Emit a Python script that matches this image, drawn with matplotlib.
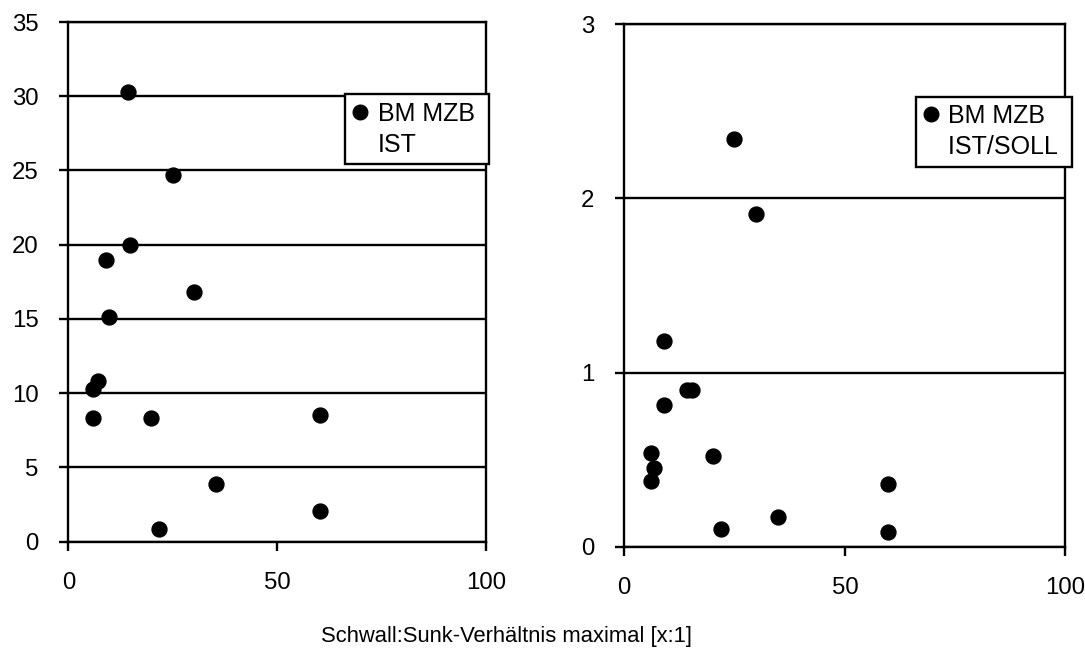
import matplotlib
matplotlib.use("Agg")
import matplotlib.pyplot as plt
from matplotlib.lines import Line2D

plt.rcParams["font.family"] = ["Liberation Sans", "DejaVu Sans"]
plt.rcParams["font.size"] = 17.3

# ---------- DATA ----------
x_ist = [14.2, 25.0, 14.7, 9.0, 30.1, 9.7, 7.0, 5.8, 5.8, 19.9, 60.3, 35.3, 60.3, 21.8]
y_ist = [30.3, 24.7, 20.0, 19.0, 16.8, 15.1, 10.8, 10.3, 8.35, 8.35, 8.5, 3.9, 2.05, 0.85]

x_ratio = [24.9, 29.9, 9.1, 14.1, 15.4, 9.1, 6.1, 20.2, 6.7, 6.1, 59.8, 34.9, 21.9, 59.8]
y_ratio = [2.34, 1.91, 1.18, 0.90, 0.90, 0.816, 0.54, 0.52, 0.45, 0.38, 0.36, 0.17, 0.10, 0.085]

xlabel = "Schwall:Sunk-Verhältnis maximal [x:1]"
label_ist = ["BM MZB ", "IST"]
label_ratio = ["BM MZB", "IST/SOLL "]

fig = plt.figure(figsize=(10.85, 6.51), dpi=100)
ax1 = fig.add_axes([0.0630, 0.1679, 0.3850, 0.7983])
ax2 = fig.add_axes([0.5754, 0.1602, 0.4066, 0.8025])


def style(ax, ymax, ystep):
    ax.set_xlim(0, 100)
    ax.set_ylim(0, ymax)
    ax.set_xticks([0, 50, 100])
    ax.set_yticks([i * ystep for i in range(int(round(ymax / ystep)) + 1)])
    ax.yaxis.grid(True, color="black", linewidth=1.7)
    ax.set_axisbelow(True)
    for s in ax.spines.values():
        s.set_linewidth(1.7)
    ax.tick_params(direction="out", length=6.5, width=1.7, pad=15)


def legend(ax, labels, anchor):
    h = [Line2D([], [], marker="o", linestyle="none", color="black", markersize=10.5),
         Line2D([], [], linestyle="none")]
    leg = ax.legend(h, labels, loc="upper left", bbox_to_anchor=anchor,
                    bbox_transform=fig.transFigure, frameon=True, fancybox=False,
                    edgecolor="black", handlelength=0.6, handletextpad=0.4,
                    labelspacing=0.28, borderpad=0.3, borderaxespad=0,
                    prop={"size": 18})
    leg.get_frame().set_linewidth(1.7)
    leg.get_frame().set_alpha(1)


# ---------- GRAPH 1: IST ----------
ax1.scatter(x_ist, y_ist, s=115, color="black", zorder=3, clip_on=False)
style(ax1, 35, 5)
legend(ax1, label_ist, (0.318, 0.8556))

# ---------- GRAPH 2: IST/SOLL ----------
ax2.scatter(x_ratio, y_ratio, s=115, color="black", zorder=3, clip_on=False)
style(ax2, 3, 1)
legend(ax2, label_ratio, (0.844, 0.8515))

fig.text(0.467, 0.023, xlabel, ha="center", va="center", fontsize=15.8)

fig.savefig("out.png", dpi=100)
